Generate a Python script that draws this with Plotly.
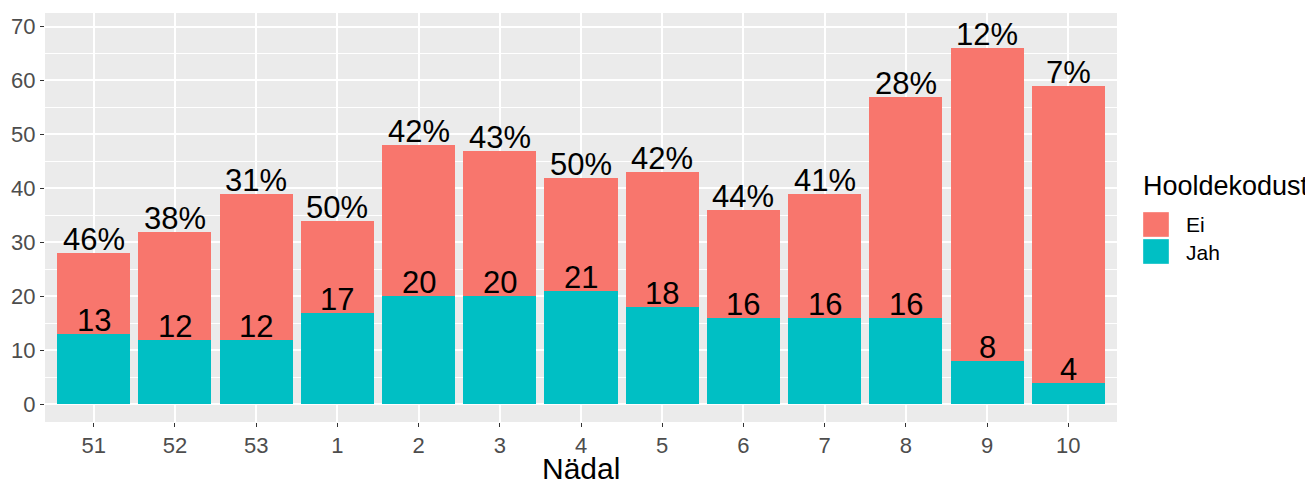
import plotly.graph_objects as go

weeks = ["51", "52", "53", "1", "2", "3", "4", "5", "6", "7", "8", "9", "10"]
jah = [13, 12, 12, 17, 20, 20, 21, 18, 16, 16, 16, 8, 4]
total = [28, 32, 39, 34, 48, 47, 42, 43, 36, 39, 57, 66, 59]
ei = [t - j for t, j in zip(total, jah)]
pct_labels = ["46%", "38%", "31%", "50%", "42%", "43%", "50%", "42%", "44%", "41%", "28%", "12%", "7%"]
series_names = ["Ei", "Jah"]
series_colors = ["#F8766D", "#00BFC4"]
legend_title = "Hooldekodust"
x_title = "Nädal"

FONT = "Liberation Sans, Arial, sans-serif"

# the page body has an 8px default margin; size the figure so it fits the window
OFF = 8
W, H = 1313 - OFF, 485 - OFF
panel_l, panel_r, panel_t, panel_b = 45, 1117, 13, 422   # target window pixels
ml, mt = panel_l - OFF, panel_t - OFF
pw, ph = panel_r - panel_l, panel_b - panel_t
mr, mb = W - ml - pw, H - mt - ph


def px_x(x):
    return (x - panel_l) / pw


def px_y(y):
    return (panel_b - y) / ph


fig = go.Figure()
fig.add_trace(go.Bar(x=weeks, y=jah, name=series_names[1],
                     marker=dict(color=series_colors[1], line=dict(width=0)), showlegend=False))
fig.add_trace(go.Bar(x=weeks, y=ei, name=series_names[0],
                     marker=dict(color=series_colors[0], line=dict(width=0)), showlegend=False))

anns = []
for i, (j, t, p) in enumerate(zip(jah, total, pct_labels)):
    anns.append(dict(x=i, y=j, text=str(j), showarrow=False, xref="x", yref="y",
                     yanchor="bottom", yshift=-6, font=dict(family=FONT, size=31, color="black")))
    anns.append(dict(x=i, y=t, text=p, showarrow=False, xref="x", yref="y",
                     yanchor="bottom", yshift=-6, font=dict(family=FONT, size=31, color="black")))

# manual ggplot-style legend with large keys
anns.append(dict(x=px_x(1141), y=px_y(186), xref="paper", yref="paper", text=legend_title,
                 showarrow=False, xanchor="left", yanchor="middle",
                 font=dict(family=FONT, size=27, color="black")))
shapes = []
key_tops = [212, 239]
for name, col, top in zip(series_names, series_colors, key_tops):
    shapes.append(dict(type="rect", xref="paper", yref="paper",
                       x0=px_x(1143), x1=px_x(1169), y0=px_y(top + 25), y1=px_y(top),
                       fillcolor=col, line=dict(width=0.6, color="rgba(255,255,255,0.6)")))
    anns.append(dict(x=px_x(1184), y=px_y(top + 13), xref="paper", yref="paper", text=name,
                     showarrow=False, xanchor="left", yanchor="middle",
                     font=dict(family=FONT, size=21, color="black")))

# x axis title below tick labels
anns.append(dict(x=0.5, y=px_y(468), xref="paper", yref="paper", text=x_title,
                 showarrow=False, xanchor="center", yanchor="middle",
                 font=dict(family=FONT, size=30, color="black")))

fig.update_layout(
    annotations=anns,
    shapes=shapes,
    barmode="stack",
    bargap=0.1,
    width=W, height=H,
    margin=dict(l=ml, r=mr, t=mt, b=mb),
    paper_bgcolor="white",
    plot_bgcolor="#EBEBEB",
    font=dict(family=FONT, color="#4D4D4D"),
    showlegend=False,
    xaxis=dict(
        type="category", range=[-0.6, 12.6], automargin=False,
        showgrid=True, gridcolor="white", gridwidth=1.5,
        ticks="outside", ticklen=4, tickcolor="#333333", tickwidth=1.2,
        tickfont=dict(family=FONT, size=22, color="#4D4D4D"),
        zeroline=False, showline=False,
    ),
    yaxis=dict(
        range=[-3.25, 72.5], dtick=10, tick0=0, automargin=False,
        showgrid=True, gridcolor="white", gridwidth=1.5,
        minor=dict(dtick=5, tick0=0, showgrid=True, gridcolor="white", gridwidth=0.7),
        ticks="outside", ticklen=4, tickcolor="#333333", tickwidth=1.2,
        tickfont=dict(family=FONT, size=22, color="#4D4D4D"),
        zeroline=False, showline=False,
    ),
)

fig.write_html("out.html")
